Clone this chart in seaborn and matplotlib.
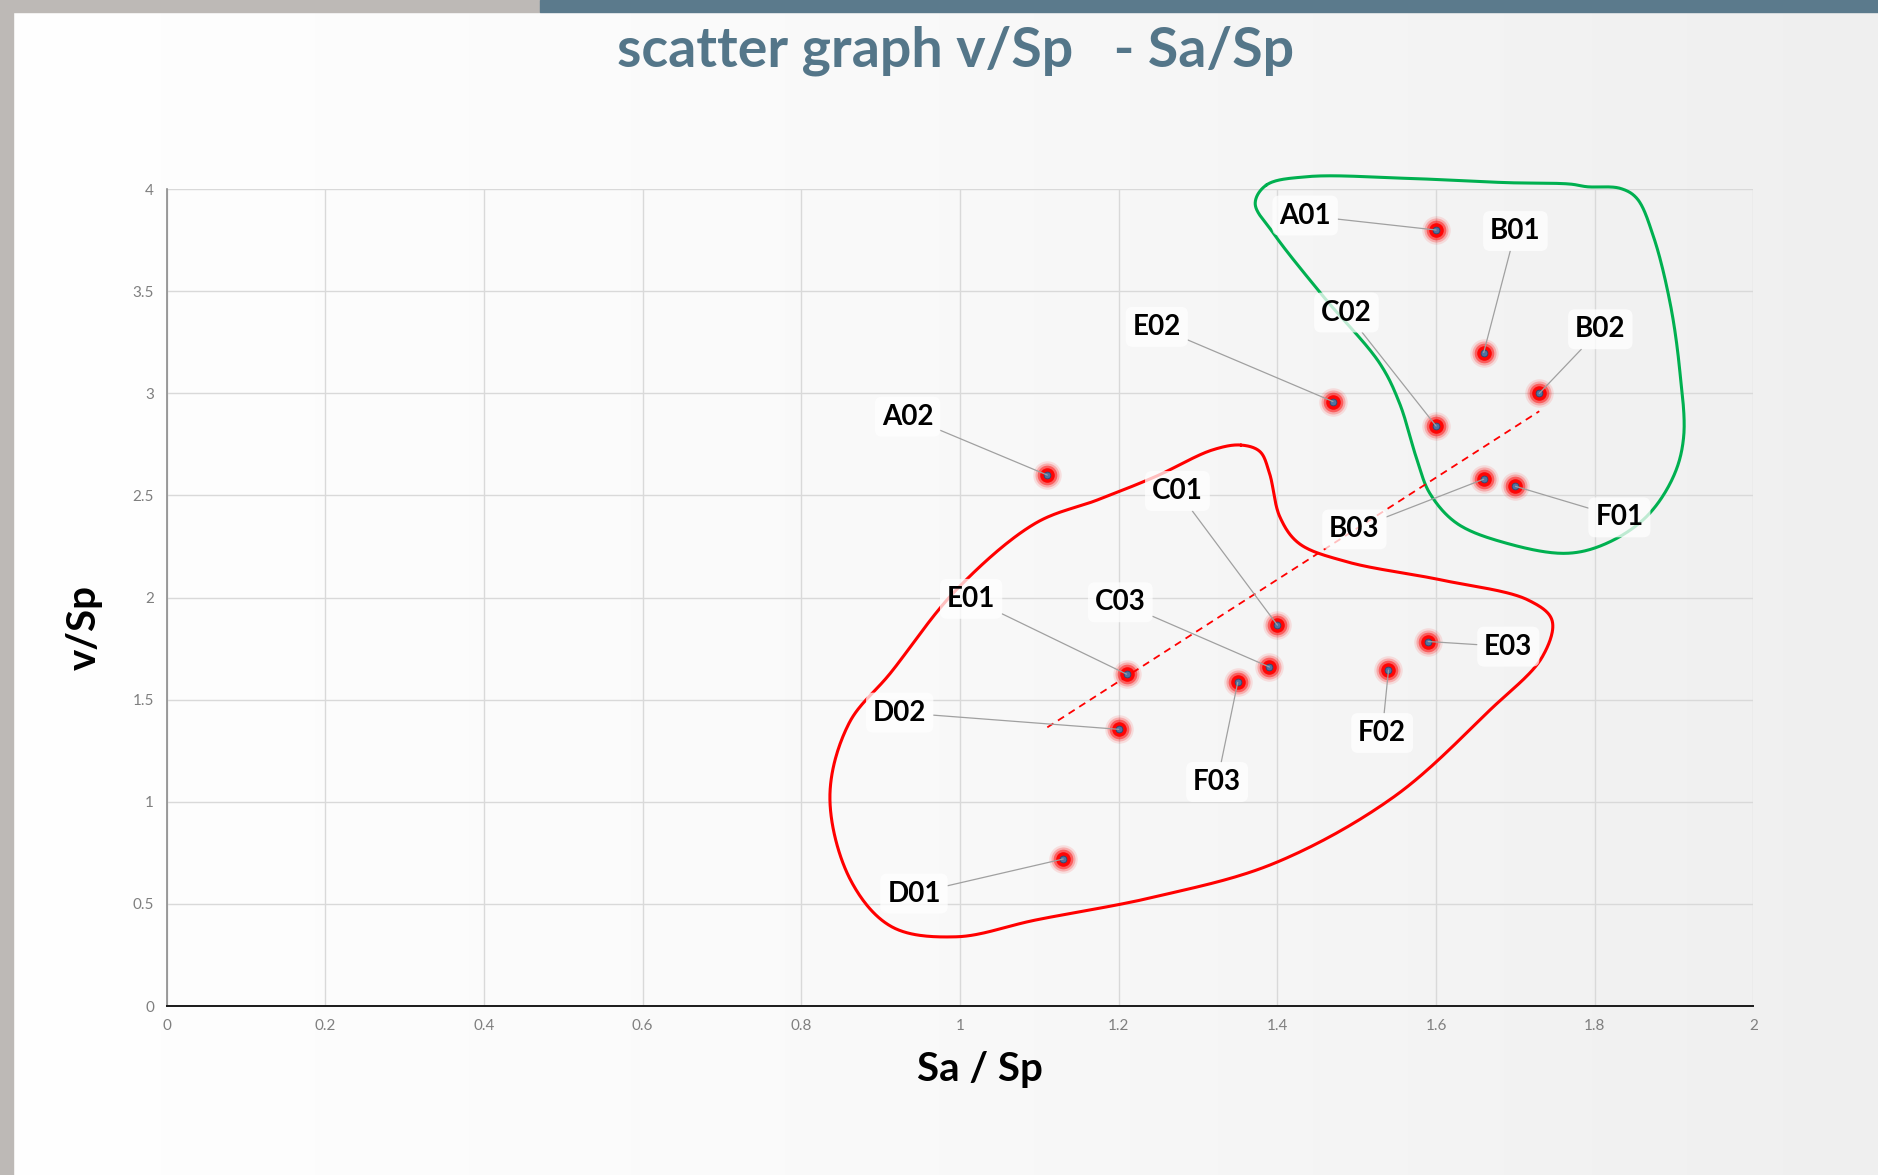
import numpy as np
import pandas as pd
import matplotlib
matplotlib.use("Agg")
import matplotlib.pyplot as plt
import seaborn as sns

# sample points
names = ["A01", "B01", "B02", "E02", "C02", "A02", "B03", "F01",
         "C01", "E03", "C03", "F02", "E01", "F03", "D02", "D01"]
sa_sp = [1.60, 1.66, 1.73, 1.47, 1.60, 1.11, 1.66, 1.70,
         1.40, 1.59, 1.39, 1.54, 1.21, 1.35, 1.20, 1.13]
v_sp = [3.80, 3.20, 3.00, 2.96, 2.84, 2.60, 2.58, 2.545,
        1.865, 1.785, 1.66, 1.645, 1.625, 1.585, 1.355, 0.72]

x_ticks = [0, 0.2, 0.4, 0.6, 0.8, 1, 1.2, 1.4, 1.6, 1.8, 2]
y_ticks = [0, 0.5, 1, 1.5, 2, 2.5, 3, 3.5, 4]

df = pd.DataFrame({"name": names, "Sa/Sp": sa_sp, "v/Sp": v_sp})

# where each data label sits (data units)
label_pos = {
    "A01": (1.435, 3.871), "B01": (1.700, 3.795), "B02": (1.807, 3.314),
    "E02": (1.248, 3.326), "C02": (1.487, 3.396), "A02": (0.934, 2.886),
    "B03": (1.497, 2.334), "F01": (1.831, 2.393), "C01": (1.274, 2.522),
    "E03": (1.691, 1.760), "C03": (1.202, 1.977), "F02": (1.532, 1.337),
    "E01": (1.014, 1.994), "F03": (1.324, 1.097), "D02": (0.924, 1.437),
    "D01": (0.942, 0.551),
}

# hand-drawn group outlines (control points, data units)
green_loop = [(1.386, 4.02), (1.437, 4.061), (1.563, 4.053),
              (1.689, 4.032), (1.769, 4.025), (1.790, 4.012), (1.832, 4.004),
              (1.853, 3.955), (1.874, 3.767), (1.895, 3.441), (1.907, 3.115),
              (1.912, 2.788), (1.899, 2.592), (1.865, 2.396), (1.815, 2.266),
              (1.765, 2.217), (1.689, 2.266), (1.626, 2.364), (1.592, 2.511),
              (1.576, 2.674), (1.554, 2.951), (1.529, 3.147), (1.458, 3.474),
              (1.395, 3.784), (1.372, 3.93)]
red_loop = [(1.354, 2.747), (1.378, 2.715), (1.390, 2.609), (1.403, 2.396),
            (1.427, 2.266), (1.487, 2.176), (1.607, 2.086), (1.716, 1.988),
            (1.746, 1.890), (1.734, 1.711), (1.668, 1.450), (1.547, 1.025),
            (1.396, 0.699), (1.246, 0.535), (1.095, 0.421), (0.995, 0.339),
            (0.914, 0.388), (0.862, 0.617), (0.836, 1.025), (0.860, 1.384),
            (0.912, 1.629), (0.995, 2.037), (1.095, 2.364), (1.173, 2.478),
            (1.246, 2.592), (1.318, 2.723)]


def smooth_closed(pts, n=30, alpha=0.5, yscale=0.2574):
    # centripetal Catmull-Rom through the control points
    P = np.asarray(pts, dtype=float) * [1, yscale]
    N = len(P)
    out = []
    for i in range(N):
        p0, p1, p2, p3 = P[i - 1], P[i], P[(i + 1) % N], P[(i + 2) % N]
        t0 = 0.0
        t1 = t0 + np.linalg.norm(p1 - p0) ** alpha
        t2 = t1 + np.linalg.norm(p2 - p1) ** alpha
        t3 = t2 + np.linalg.norm(p3 - p2) ** alpha
        t = np.linspace(t1, t2, n, endpoint=False)[:, None]
        a1 = (t1 - t) / (t1 - t0) * p0 + (t - t0) / (t1 - t0) * p1
        a2 = (t2 - t) / (t2 - t1) * p1 + (t - t1) / (t2 - t1) * p2
        a3 = (t3 - t) / (t3 - t2) * p2 + (t - t2) / (t3 - t2) * p3
        b1 = (t2 - t) / (t2 - t0) * a1 + (t - t0) / (t2 - t0) * a2
        b2 = (t3 - t) / (t3 - t1) * a2 + (t - t1) / (t3 - t1) * a3
        out.append((t2 - t) / (t2 - t1) * b1 + (t - t1) / (t2 - t1) * b2)
    out.append(out[0][:1])
    return np.vstack(out) / [1, yscale]


sns.set_style("white")
plt.rcParams["font.family"] = ["Lato", "DejaVu Sans"]

fig = plt.figure(figsize=(18.78, 11.75), dpi=100)

# slide background: light gradient, grey frame, coloured top band
bg = fig.add_axes([0, 0, 1, 1], zorder=-10)
grad = np.linspace(0, 1, 256)[None, :]
bg.imshow(grad, cmap=matplotlib.colors.LinearSegmentedColormap.from_list(
    "slide", ["#ffffff", "#f9f9f9", "#efefef"]), aspect="auto",
    extent=[0, 1, 0, 1], transform=bg.transAxes)
bg.add_patch(plt.Rectangle((0, 0), 13 / 1878, 1, color="#bdb9b6",
                           transform=bg.transAxes))
bg.add_patch(plt.Rectangle((0, 1 - 12 / 1175), 540 / 1878, 12 / 1175,
                           color="#bdb9b6", transform=bg.transAxes))
bg.add_patch(plt.Rectangle((540 / 1878, 1 - 12 / 1175), 1, 12 / 1175,
                           color="#5b7a8c", transform=bg.transAxes))
bg.set_xlim(0, 1)
bg.set_ylim(0, 1)
bg.axis("off")

ax = fig.add_axes([0.0887, 0.1438, 0.845, 0.6952])
ax.set_facecolor("none")

# trend line over the data range
sns.regplot(data=df, x="Sa/Sp", y="v/Sp", scatter=False, ci=None,
            truncate=True, ax=ax,
            line_kws=dict(color="#ff0000", lw=1.3, ls=(0, (4, 3)), zorder=3))

# glowing markers
for s, a in [(420, 0.10), (300, 0.22), (200, 0.45), (110, 0.95)]:
    sns.scatterplot(data=df, x="Sa/Sp", y="v/Sp", s=s, color="#ff0000",
                    alpha=a, linewidth=0, ax=ax, zorder=4, legend=False)
sns.scatterplot(data=df, x="Sa/Sp", y="v/Sp", s=24, color="#4f74a3",
                edgecolor="#2e4a6e", linewidth=0.6, ax=ax, zorder=5,
                legend=False)

for loop, col in [(green_loop, "#00b050"), (red_loop, "#ff0000")]:
    c = smooth_closed(loop)
    ax.plot(c[:, 0], c[:, 1], color=col, lw=2.2, zorder=2, clip_on=False)

for nm, x, y in zip(names, sa_sp, v_sp):
    lx, ly = label_pos[nm]
    ax.annotate(nm, xy=(x, y), xytext=(lx, ly), ha="center", va="center",
                fontsize=20, fontweight="bold", color="black", zorder=6,
                bbox=dict(boxstyle="round,pad=0.25", fc="white", ec="none",
                          alpha=0.75),
                arrowprops=dict(arrowstyle="-", color="#a0a0a0", lw=0.9,
                                shrinkA=0, shrinkB=0))

ax.set_xlim(0, 2)
ax.set_ylim(0, 4)
ax.set_xticks(x_ticks)
ax.set_yticks(y_ticks)
ax.set_xticklabels([f"{v:g}" for v in x_ticks])
ax.set_yticklabels([f"{v:g}" for v in y_ticks])
ax.tick_params(length=0, labelsize=11, labelcolor="#7f7f7f", pad=9)
ax.grid(True, color="#d9d9d9", lw=1)
for side in ["top", "right"]:
    ax.spines[side].set_visible(False)
ax.spines["left"].set_color("#8c8c8c")
ax.spines["left"].set_linewidth(1.2)
ax.spines["bottom"].set_color("#1a1a1a")
ax.spines["bottom"].set_linewidth(1.4)
ax.set_xlabel("")
ax.set_ylabel("")

fig.text(0.509, 0.957, "scatter graph v/Sp   - Sa/Sp", ha="center",
         va="center", fontsize=40, fontweight="bold", color="#547689")
fig.text(0.522, 0.0898, "Sa / Sp", ha="center", va="center", fontsize=29,
         fontweight="bold", color="black")
fig.text(0.0447, 0.466, "v/Sp", ha="center", va="center", rotation=90,
         fontsize=29, fontweight="bold", color="black")

fig.savefig("out.png", dpi=100)
